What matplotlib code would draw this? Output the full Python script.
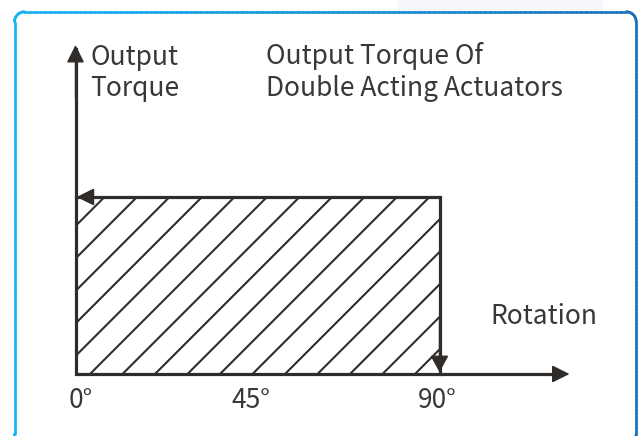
import matplotlib
matplotlib.use('Agg')
import matplotlib.pyplot as plt
import numpy as np
from matplotlib.collections import LineCollection
from matplotlib.patches import Rectangle
from matplotlib.colors import to_rgb

# ---------------- data ----------------
rotation_range = [0, 90]          # degrees of stroke
torque_level = 1.0                # constant output torque (normalised)
tick_values = [0, 45, 90]
tick_labels = ['0°', '45°', '90°']
y_axis_label = ['Output', 'Torque']
title_lines = ['Output Torque Of', 'Double Acting Actuators']
x_axis_label = 'Rotation'

# ---------------- layout / style ----------------
W, H = 641, 436
INK = '#302c29'
TXT = '#3a3734'
FS = 19
plt.rcParams['font.family'] = ['Noto Sans CJK SC', 'DejaVu Sans']

fig = plt.figure(figsize=(W / 100, H / 100), dpi=100)
fig.patch.set_facecolor('white')

def fx(px):
    return px / W

def fy(py):
    return 1 - py / H

# decoration layer in pixel coordinates
deco = fig.add_axes([0, 0, 1, 1], zorder=0)
deco.set_xlim(0, W)
deco.set_ylim(H, 0)
deco.axis('off')
deco.add_patch(Rectangle((398, 0), 205, 11, color='#f6f7fa', lw=0))

def rounded_rect_pts(x0, y0, x1, y1, r):
    pts = []
    def line(a, b, n=120):
        t = np.linspace(0, 1, n)
        return list(zip(a[0] + (b[0] - a[0]) * t, a[1] + (b[1] - a[1]) * t))
    def arc(cx, cy, a0, a1, n=20):
        t = np.radians(np.linspace(a0, a1, n))
        return list(zip(cx + r * np.cos(t), cy + r * np.sin(t)))
    pts += line((x0, y1 - r), (x0, y0 + r))
    pts += arc(x0 + r, y0 + r, 180, 270)
    pts += line((x0 + r, y0), (x1 - r, y0))
    pts += arc(x1 - r, y0 + r, 270, 360)
    pts += line((x1, y0 + r), (x1, y1 - r))
    pts += arc(x1 - r, y1 - r, 0, 90)
    pts += line((x1 - r, y1), (x0 + r, y1))
    pts += arc(x0 + r, y1 - r, 90, 180)
    return np.array(pts)

fp = rounded_rect_pts(14.5, 11.8, 636.2, 444, 10)
segs = np.stack([fp[:-1], fp[1:]], axis=1)
c0, c1 = np.array(to_rgb('#19b4f2')), np.array(to_rgb('#1a72bd'))
xm = (segs[:, 0, 0] + segs[:, 1, 0]) / 2
f = np.clip((xm - 14.5) / (636.2 - 14.5), 0, 1)[:, None]
cols = c0 * (1 - f) + c1 * f
deco.add_collection(LineCollection(segs, colors=cols, linewidths=1.9, capstyle='round'))

# main chart axes: data (0,0) at pixel (75.5,374), (90,1) at pixel (439.5,197)
L_PX, R_PX, B_PX, T_PX = 75.5, 439.5, 374.0, 197.0
ax = fig.add_axes([fx(L_PX), fy(B_PX), (R_PX - L_PX) / W, (B_PX - T_PX) / H], zorder=1)
ax.set_xlim(rotation_range[0], rotation_range[1])
ax.set_ylim(0, torque_level)
ax.axis('off')

ppx = (R_PX - L_PX) / (rotation_range[1] - rotation_range[0])   # px per degree
ppy = (B_PX - T_PX) / torque_level                              # px per torque unit
x_axis_end = (569.5 - L_PX) / ppx
y_axis_end = (B_PX - 45.0) / ppy

# hatching (45 degrees in display space)
hatch_spacing = 32.5 / ppx
hatch_phase = (90.0 - L_PX) / ppx
run = torque_level * ppy / ppx
starts = hatch_phase + hatch_spacing * np.arange(-8, 12)
hsegs = [[(s, 0), (s + run, torque_level)] for s in starts]
clip_rect = Rectangle((rotation_range[0], 0), rotation_range[1] - rotation_range[0],
                      torque_level, transform=ax.transData, fill=False, lw=0)
ax.add_patch(clip_rect)
hl = LineCollection(hsegs, colors=INK, linewidths=1.5)
hl.set_clip_path(clip_rect)
ax.add_collection(hl)

LW = 2.3
# axes (L shape)
ax.plot([0, 0, x_axis_end - 2], [y_axis_end - 0.02, 0, 0], color=INK, lw=LW,
        solid_joinstyle='miter', clip_on=False, zorder=3)
# torque envelope (top and right edges)
ax.plot([0, rotation_range[1], rotation_range[1]], [torque_level, torque_level, 0],
        color=INK, lw=LW, solid_joinstyle='miter', clip_on=False, zorder=3)

def head(tip, frm, hl=1.0, hw=0.5):
    ax.annotate('', xy=tip, xytext=frm, annotation_clip=False,
                arrowprops=dict(arrowstyle=f'-|>,head_length={hl},head_width={hw}',
                                mutation_scale=11, lw=1.0, color=INK,
                                shrinkA=0, shrinkB=0, joinstyle='miter'), zorder=4)

head((0, y_axis_end), (0, y_axis_end - 0.3))
head((x_axis_end, 0), (x_axis_end - 10, 0))
head((0.3, torque_level), (10, torque_level))
head((rotation_range[1], 0.01), (rotation_range[1], 0.3), hl=0.95, hw=0.52)

# tick labels
nudges = [5, -6, -2]
for v, lab, dx in zip(tick_values, tick_labels, nudges):
    ax.annotate(lab, xy=(v, 0), xytext=(dx, -33.7), textcoords='offset pixels',
                ha='center', va='baseline', fontsize=FS, color=TXT, annotation_clip=False)

# texts
fig.text(fx(90.5), fy(64.8), y_axis_label[0], fontsize=FS, color=TXT, va='baseline', ha='left')
fig.text(fx(90.5), fy(96.0), y_axis_label[1], fontsize=FS, color=TXT, va='baseline', ha='left')
fig.text(fx(266), fy(64.5), title_lines[0], fontsize=FS, color=TXT, va='baseline', ha='left')
fig.text(fx(266), fy(95.5), title_lines[1], fontsize=FS, color=TXT, va='baseline', ha='left')
fig.text(fx(490.5), fy(324), x_axis_label, fontsize=FS, color=TXT, va='baseline', ha='left')

fig.savefig('out.png', dpi=100, facecolor='white')
